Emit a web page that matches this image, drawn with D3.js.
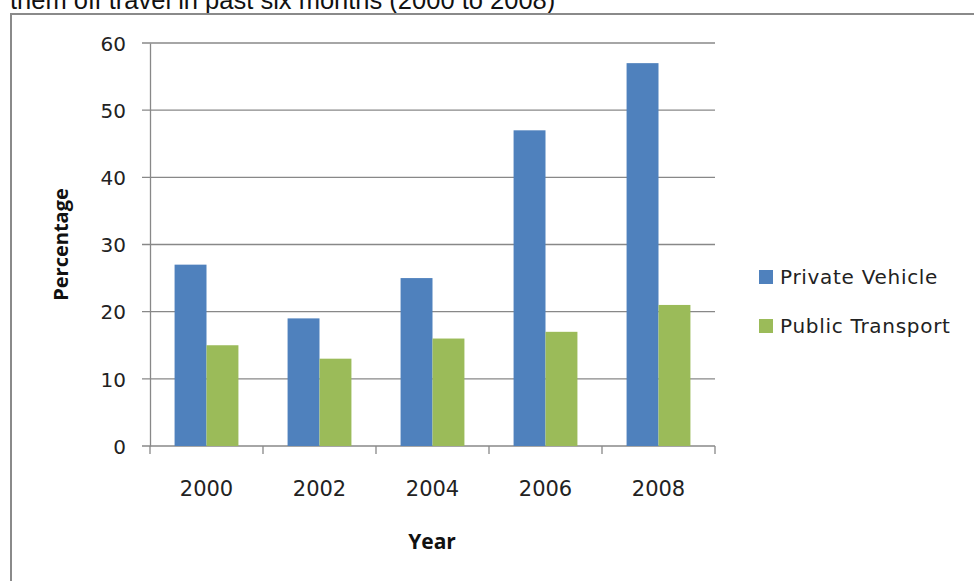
<!DOCTYPE html>
<html>
<head>
<meta charset="utf-8">
<script src="https://cdn.jsdelivr.net/npm/d3@7"></script>
<style>
  body { margin: 0; background: #fff; }
  svg { display: block; }
  .tick text { fill: #222; }
</style>
</head>
<body>
<div id="chart"></div>
<script>
// data
let years = ["2000", "2002", "2004", "2006", "2008"];
let privateVehicle = [27, 19, 25, 47, 57];
let publicTransport = [15, 13, 16, 17, 21];
let seriesNames = ["Private Vehicle", "Public Transport"];
let seriesColors = ["#4F81BD", "#9BBB59"];
let yTicks = [0, 10, 20, 30, 40, 50, 60];

let width = 974;
let height = 581;

// plot area
let plotLeft = 150, plotRight = 715, plotTop = 43, plotBottom = 446;

let svg = d3.select("#chart")
    .append("svg")
    .attr("width", width)
    .attr("height", height);

// title line, only its lower half shows at the top
svg.append("text")
    .attr("x", 10)
    .attr("y", 9)
    .attr("font-family", "Liberation Sans, Arial, sans-serif")
    .attr("font-size", 25.5)
    .attr("fill", "#111")
    .text("them off travel in past six months (2000 to 2008)");

// frame of the chart
svg.append("path")
    .attr("d", "M11," + height + "V14H" + width)
    .attr("fill", "none")
    .attr("stroke", "#8a8a8a")
    .attr("stroke-width", 2);

let xScale = d3.scaleBand()
    .domain(years)
    .range([plotLeft, plotRight])
    .paddingInner(0)
    .paddingOuter(0);

let inner = d3.scaleBand()
    .domain(seriesNames)
    .range([0, xScale.bandwidth()])
    .paddingInner(0)
    .paddingOuter(0.77);

let yScale = d3.scaleLinear()
    .domain([0, 60])
    .range([plotBottom, plotTop]);

// gridlines
svg.append("g")
    .selectAll("line")
    .data(yTicks)
    .enter()
    .append("line")
    .attr("x1", plotLeft - 8)
    .attr("x2", plotRight)
    .attr("y1", function(d) { return yScale(d); })
    .attr("y2", function(d) { return yScale(d); })
    .attr("stroke", "#888")
    .attr("stroke-width", 1.3);

// y axis
let yAxis = d3.axisLeft(yScale).tickValues(yTicks).tickSize(0).tickPadding(24);
let yG = svg.append("g")
    .attr("transform", "translate(" + plotLeft + ",0)")
    .call(yAxis);
yG.select(".domain").attr("stroke", "#888").attr("stroke-width", 1.3);
yG.selectAll("text")
    .attr("font-family", "DejaVu Sans, sans-serif")
    .attr("font-size", 20)
    .attr("dy", "0.36em");

// bars
let tableRows = years.map(function(y, i) {
    return { year: y, values: [privateVehicle[i], publicTransport[i]] };
});

let groups = svg.append("g")
    .selectAll("g")
    .data(tableRows)
    .enter()
    .append("g")
    .attr("transform", function(d) { return "translate(" + xScale(d.year) + ",0)"; });

groups.selectAll("rect")
    .data(function(d) {
        return d.values.map(function(v, j) { return { name: seriesNames[j], value: v, color: seriesColors[j] }; });
    })
    .enter()
    .append("rect")
    .attr("x", function(d) { return inner(d.name); })
    .attr("width", inner.bandwidth())
    .attr("y", function(d) { return yScale(d.value); })
    .attr("height", function(d) { return plotBottom - yScale(d.value); })
    .attr("fill", function(d) { return d.color; });

// x axis
let xAxis = d3.axisBottom(xScale).tickSize(0).tickPadding(35);
let xG = svg.append("g")
    .attr("transform", "translate(0," + plotBottom + ")")
    .call(xAxis);
xG.select(".domain").remove();
xG.selectAll("text")
    .attr("font-family", "DejaVu Sans, sans-serif")
    .attr("font-size", 21);

let boundaries = years.map(function(y) { return xScale(y); }).concat([plotRight]);
xG.selectAll("line.sep")
    .data(boundaries)
    .enter()
    .append("line")
    .attr("class", "sep")
    .attr("x1", function(d) { return d; })
    .attr("x2", function(d) { return d; })
    .attr("y1", 0)
    .attr("y2", 8)
    .attr("stroke", "#888")
    .attr("stroke-width", 1.3);

// axis titles
svg.append("text")
    .attr("x", 432)
    .attr("y", 549)
    .attr("text-anchor", "middle")
    .attr("font-family", "Open Sans, sans-serif")
    .attr("font-weight", "bold")
    .attr("font-size", 21)
    .attr("fill", "#111")
    .text("Year");

svg.append("text")
    .attr("transform", "translate(68," + ((plotTop + plotBottom) / 2) + ")rotate(-90)")
    .attr("text-anchor", "middle")
    .attr("font-family", "Open Sans, sans-serif")
    .attr("font-weight", "bold")
    .attr("font-size", 20)
    .attr("fill", "#111")
    .text("Percentage");

// legend
let legend = svg.append("g")
    .selectAll("g")
    .data(seriesNames)
    .enter()
    .append("g")
    .attr("transform", function(d, i) { return "translate(759," + (270 + i * 49) + ")"; });

legend.append("rect")
    .attr("width", 14)
    .attr("height", 14)
    .attr("fill", function(d, i) { return seriesColors[i]; });

legend.append("text")
    .attr("x", 21)
    .attr("y", 14)
    .attr("font-family", "DejaVu Sans, sans-serif")
    .attr("font-size", 20)
    .attr("letter-spacing", 0.7)
    .attr("fill", "#222")
    .text(function(d) { return d; });
</script>
</body>
</html>
